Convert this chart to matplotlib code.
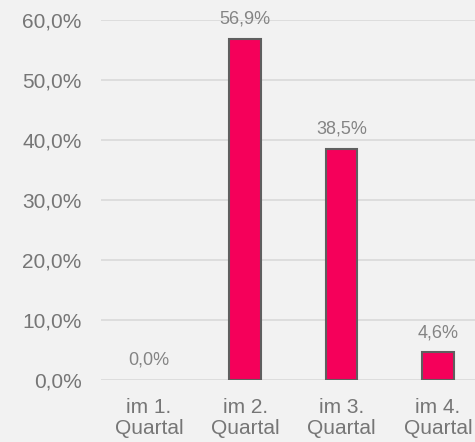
import matplotlib
matplotlib.use("Agg")
import matplotlib.pyplot as plt

categories = ["im 1.\nQuartal", "im 2.\nQuartal", "im 3.\nQuartal", "im 4.\nQuartal"]
values = [0.0, 56.9, 38.5, 4.6]
yticks = [0, 10, 20, 30, 40, 50, 60]

plt.rcParams['font.family'] = ['Liberation Sans', 'DejaVu Sans']
bg = "#f2f2f2"
txt = "#767676"
lbl = "#848484"

fig = plt.figure(figsize=(4.75, 4.42), dpi=100, facecolor=bg)
ax = fig.add_axes([101/475, 1 - 380/442, 1 - 101/475, 360/442], facecolor=bg)

x = list(range(len(categories)))
bars = ax.bar(x, values, width=0.33, color="#f5005a", edgecolor="#5f5f5f", linewidth=1.5, zorder=3)
for b, v in zip(bars, values):
    if v == 0:
        b.set_linewidth(0)

for xi, v in zip(x, values):
    ax.annotate(f"{v:.1f}%".replace(".", ","), (xi, v), xytext=(0, 8), textcoords="offset points",
                ha="center", va="bottom", fontsize=13, color=lbl)

ax.set_ylim(0, 60)
ax.set_xlim(-0.5, 3.5 - 11/96.5)
ax.set_yticks(yticks)
ax.set_yticklabels([f"{t:.1f}%".replace(".", ",") for t in yticks], fontsize=15, color=txt)
ax.set_xticks(x)
ax.set_xticklabels(categories, fontsize=15, color=txt, linespacing=1.15)
ax.tick_params(axis="y", length=0, pad=14)
ax.tick_params(axis="x", length=0, pad=13)
ax.grid(axis="y", color="#d9d9d9", linewidth=1.2, zorder=0)
for s in ax.spines.values():
    s.set_visible(False)

fig.savefig("out.png", dpi=100, facecolor=bg)
